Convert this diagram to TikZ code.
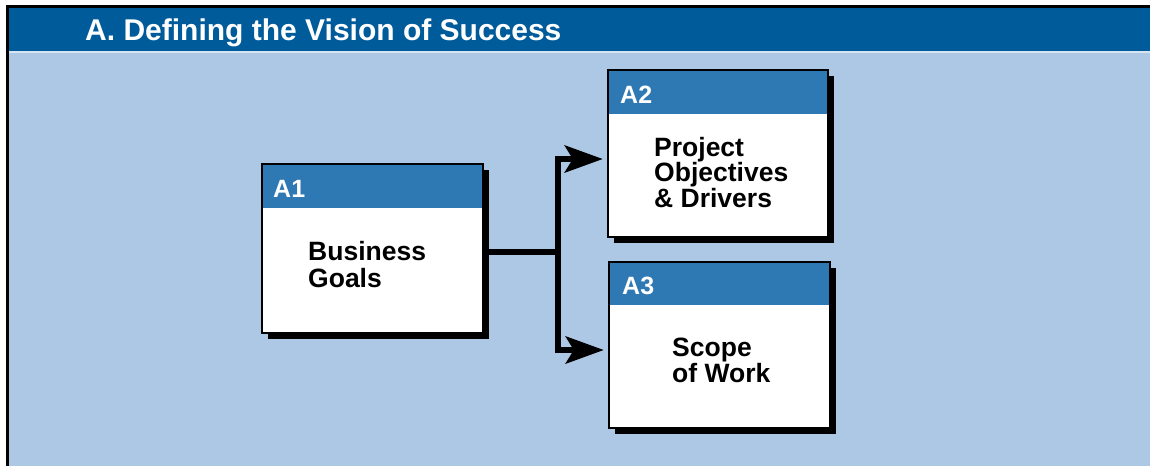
\documentclass[tikz,border=0pt]{standalone}
\usepackage{fontspec}
\setmainfont{Liberation Sans}
\usetikzlibrary{arrows.meta,shadows}
\definecolor{band}{RGB}{0,91,154}
\definecolor{bg}{RGB}{173,200,228}
\definecolor{hdr}{RGB}{46,120,180}
\definecolor{sepline}{RGB}{215,228,242}
\begin{document}
\begin{tikzpicture}[x=1pt,y=-1pt]
\tikzset{
 boxfill/.style={fill=white, inner sep=0pt, rectangle,
   drop shadow={shadow xshift=6pt, shadow yshift=-6pt, opacity=1, fill=black}},
 border/.style={draw=black, line width=2pt},
 hdrtext/.style={text=white, font=\bfseries\fontsize{25}{25}\selectfont, anchor=base west, inner sep=0pt},
 bodytext/.style={font=\bfseries\fontsize{26.5}{25.5}\selectfont, anchor=base west, inner sep=0pt, align=left},
 titletext/.style={text=white, font=\bfseries\fontsize{30}{30}\selectfont, anchor=base west, inner sep=0pt},
 conn/.style={line width=6pt, draw=black},
 tip/.style={-{Stealth[length=38pt,width=27pt,inset=8pt]}}
}
\useasboundingbox (0,0) rectangle (1150,466);
\fill[white] (0,0) rectangle (1150,466);
\fill[bg] (8,8) rectangle (1150,466);
\fill[band] (8,8) rectangle (1150,51);
\fill[sepline] (8,51) rectangle (1150,53);
\draw[black, line width=2.5pt] (6,6.5) -- (1150,6.5);
\draw[black, line width=3pt] (7.5,6) -- (7.5,466);
\node[titletext] (title) at (85,40) {A. Defining the Vision of Success};

% boxes
\node[boxfill, minimum width=221pt, minimum height=169pt] (a1) at (372.5,248.5) {};
\fill[hdr] (a1.north west) rectangle (a1.east |- 0,208);
\draw[border] (a1.north west) rectangle (a1.south east);

\node[boxfill, minimum width=220pt, minimum height=167pt] (a2) at (718,153.5) {};
\fill[hdr] (a2.north west) rectangle (a2.east |- 0,114);
\draw[border] (a2.north west) rectangle (a2.south east);

\node[boxfill, minimum width=221pt, minimum height=166pt] (a3) at (719.5,345) {};
\fill[hdr] (a3.north west) rectangle (a3.east |- 0,305);
\draw[border] (a3.north west) rectangle (a3.south east);

% texts (base anchor = baseline of last line)
\node[hdrtext] (a1h) at (273,197) {A1};
\node[bodytext, font=\bfseries\fontsize{26.5}{27}\selectfont] (a1t) at (308,287) {Business\\Goals};
\node[hdrtext] (a2h) at (620,103) {A2};
\node[bodytext] (a2t) at (654,207) {Project\\Objectives\\\& Drivers};
\node[hdrtext] (a3h) at (622,294) {A3};
\node[bodytext] (a3t) at (672,382) {Scope\\of Work};

% connectors
\coordinate (j) at (558,252);
\draw[conn] (a1.east |- j) -- (j);
\draw[conn, tip] (j) |- ([xshift=-5pt, yshift=-5.5pt]a2.west);
\draw[conn, tip] (j) |- ([xshift=-5pt, yshift=-5pt]a3.west);
\end{tikzpicture}
\end{document}
